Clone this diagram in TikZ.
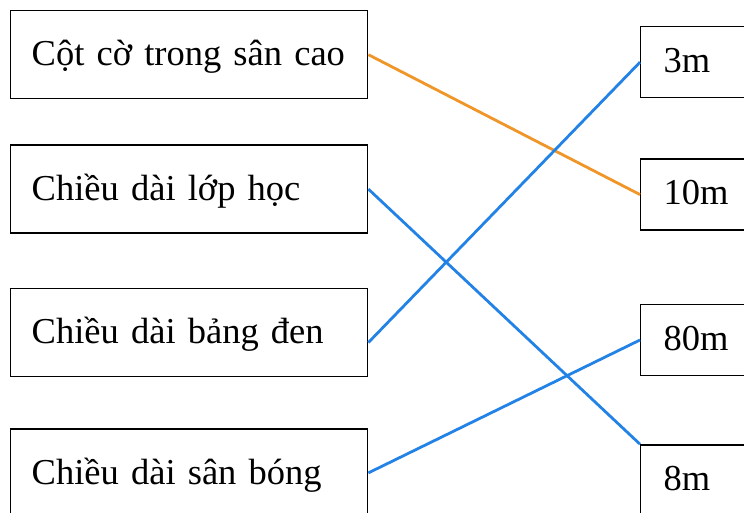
\documentclass[tikz,border=0pt]{standalone}
\usepackage{fontspec}
\setmainfont{Liberation Serif}
\usetikzlibrary{positioning}
\definecolor{lineOrange}{RGB}{240,150,40}
\definecolor{lineBlue}{RGB}{35,130,230}

\begin{document}
\begin{tikzpicture}
    [x=1pt, y=1pt,
     itemLeft/.style={rectangle, draw=black, line width=1.4pt, text width=315pt, inner xsep=21pt, minimum height=88pt, text depth=4pt, align=left, font=\fontsize{36.5}{42}\selectfont},
     itemRight/.style={rectangle, draw=black, line width=1.4pt, text width=74pt, inner xsep=23pt, minimum height=71pt, text depth=4pt, align=left, font=\fontsize{36.5}{42}\selectfont},
     matchOrange/.style={draw=lineOrange, line width=2.8pt},
     matchBlue/.style={draw=lineBlue, line width=2.8pt},
    ]

    \useasboundingbox (0,0) rectangle (744,513);

    \node[itemLeft, anchor=north west] (cotCo) at (10,503) {Cột cờ trong sân cao};
    \node[itemLeft] (lopHoc) [below=45pt of cotCo] {Chiều dài lớp học};
    \node[itemLeft] (bangDen) [below=54pt of lopHoc] {Chiều dài bảng đen};
    \node[itemLeft] (sanBong) [below=51pt of bangDen] {Chiều dài sân bóng};

    \node[itemRight, anchor=north west] (baMet) at (640,487) {3m};
    \node[itemRight] (muoiMet) [below=60pt of baMet] {10m};
    \node[itemRight] (tamMuoiMet) [below=73pt of muoiMet] {80m};
    \node[itemRight] (tamMet) [below=68pt of tamMuoiMet] {8m};

    \draw[matchOrange] (cotCo.east) -- (muoiMet.west);
    \draw[matchBlue] (lopHoc.east) -- (tamMet.north west);
    \draw[matchBlue] ([yshift=-10pt]bangDen.east) -- (baMet.west);
    \draw[matchBlue] (sanBong.east) -- (tamMuoiMet.west);

\end{tikzpicture}
\end{document}
